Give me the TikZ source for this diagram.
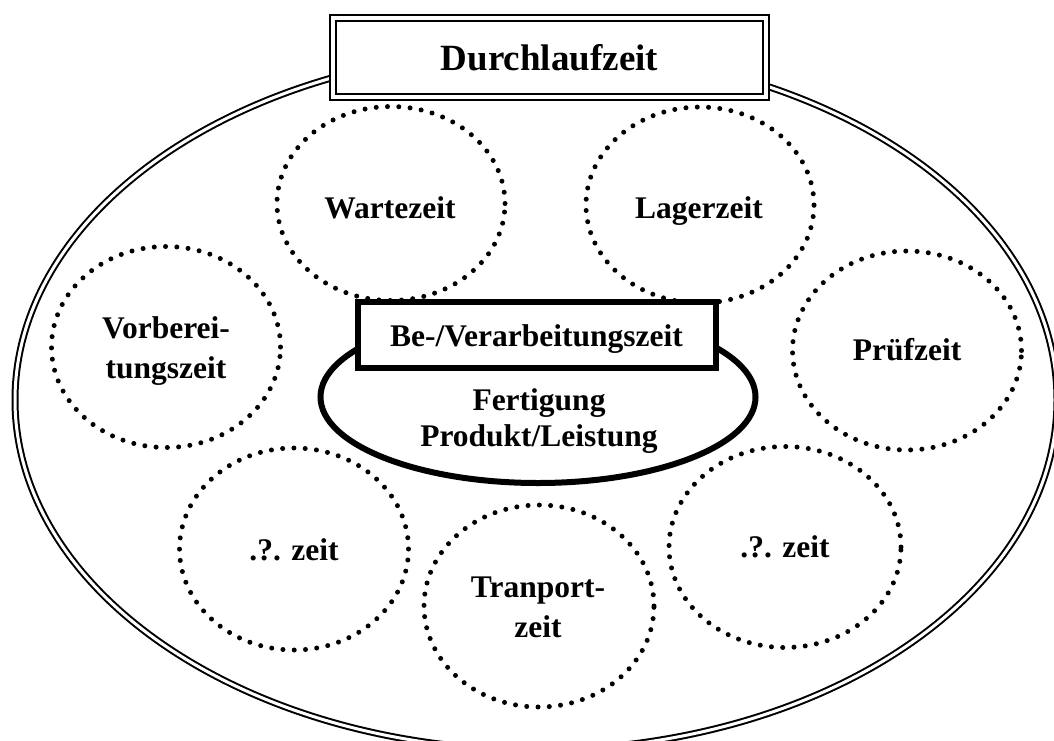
\documentclass[tikz,border=0pt]{standalone}
\usepackage{fontspec}
\setmainfont{Liberation Serif}
\usetikzlibrary{shapes.geometric}
\begin{document}
\begin{tikzpicture}[x=1pt,y=-1pt,
  rim/.style={ellipse, draw, line width=2pt, double, double distance=3pt, inner sep=0pt, outer sep=0pt},
  titleframe/.style={rectangle, draw, line width=2pt, double, double distance=4pt, fill=white, inner sep=0pt, outer sep=0pt},
  dotring/.style={ellipse, draw, line width=5pt, line cap=round, dash pattern=on 0pt off 11.3pt, inner sep=0pt, outer sep=0pt},
  core/.style={ellipse, draw, line width=6pt, fill=white, inner sep=0pt, outer sep=0pt},
  corebox/.style={rectangle, draw, line width=6pt, fill=white, inner sep=0pt, outer sep=0pt},
  lbl/.style={font=\fontsize{31.5pt}{40pt}\selectfont\bfseries, align=center, anchor=base, inner sep=0pt},
  ttl/.style={font=\fontsize{37pt}{44pt}\selectfont\bfseries, anchor=base, inner sep=0pt}
]
\useasboundingbox (0,0) rectangle (1054,740);
\clip (0,0) rectangle (1054,740);

% outer double ellipse
\node[rim, minimum width=1042pt, minimum height=700pt] (outer) at (536,400) {};

% dotted time components
\node[dotring, minimum width=228pt, minimum height=194pt] (warteC) at (391,203.5) {};
\node[dotring, minimum width=228pt, minimum height=196pt] (lagerC) at (700,205) {};
\node[dotring, minimum width=229pt, minimum height=201pt] (vorbC) at (166,347) {};
\node[dotring, minimum width=229pt, minimum height=199pt] (pruefC) at (907,350.5) {};
\node[dotring, minimum width=229pt, minimum height=202pt] (leftC) at (294,549) {};
\node[dotring, minimum width=230pt, minimum height=202pt] (transC) at (539,606) {};
\node[dotring, minimum width=232pt, minimum height=201pt] (rightC) at (785,547) {};

% production core
\node[core, minimum width=435pt, minimum height=172pt] (coreE) at (538,397) {};
\node[corebox, minimum width=358pt, minimum height=66pt] (coreB) at (537,335) {};

% title frame
\node[titleframe, minimum width=433pt, minimum height=79pt] (titleB) at (549.5,57) {};

% labels (anchor base = baseline of the last line)
\node[ttl] (titleT) at (549.5,70) {Durchlaufzeit};
\node[lbl] (warteT) at (390,218) {Wartezeit};
\node[lbl] (lagerT) at (699,218) {Lagerzeit};
\node[lbl] (vorbT) at (166,378) {Vorberei-\\tungszeit};
\node[lbl] (pruefT) at (907,360) {Prüfzeit};
\node[lbl] (leftT) at (294,560) {.?. zeit};
\node[lbl] (transT) at (538,637) {Tranport-\\zeit};
\node[lbl] (rightT) at (785,557) {.?. zeit};
\node[lbl] (coreBT) at (536.5,346.5) {Be-/Verarbeitungszeit};
\node[lbl, font=\fontsize{31.5pt}{36.7pt}\selectfont\bfseries] (coreET) at (539,446.7) {Fertigung\\Produkt/Leistung};
\end{tikzpicture}
\end{document}
